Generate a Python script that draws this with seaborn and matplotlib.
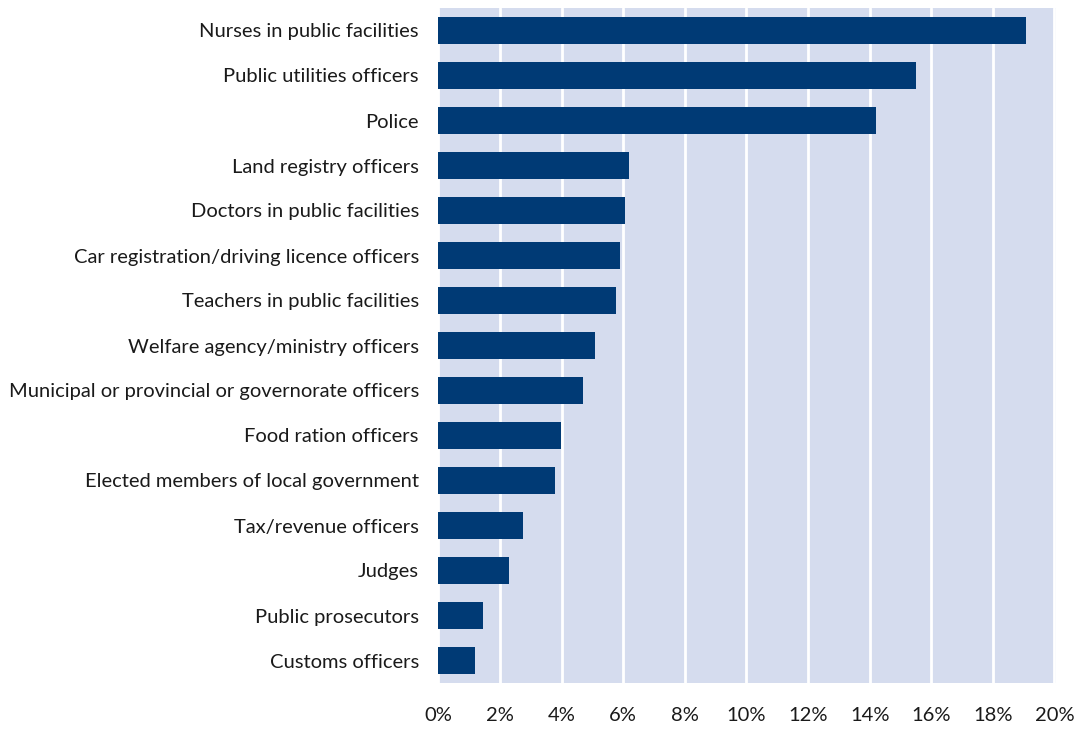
import matplotlib
matplotlib.use("Agg")
import matplotlib.pyplot as plt
import seaborn as sns
import pandas as pd
from matplotlib.ticker import FuncFormatter

categories = [
    "Nurses in public facilities",
    "Public utilities officers",
    "Police",
    "Land registry officers",
    "Doctors in public facilities",
    "Car registration/driving licence officers",
    "Teachers in public facilities",
    "Welfare agency/ministry officers",
    "Municipal or provincial or governorate officers",
    "Food ration officers",
    "Elected members of local government",
    "Tax/revenue officers",
    "Judges",
    "Public prosecutors",
    "Customs officers",
]
values = [19.06, 15.5, 14.2, 6.19, 6.06, 5.89, 5.76, 5.08, 4.69, 3.98, 3.78, 2.75, 2.29, 1.45, 1.19]
x_ticks = [0, 2, 4, 6, 8, 10, 12, 14, 16, 18, 20]

df = pd.DataFrame({"category": categories, "value": values})

sns.set_theme(style="white")
plt.rcParams["font.family"] = ["Lato", "DejaVu Sans"]

fig = plt.figure(figsize=(10.79, 7.29), dpi=100)
ax = fig.add_axes([438.3 / 1079, 1 - 683 / 729, (1056 - 438.3) / 1079, (683 - 8) / 729])
ax.set_facecolor("#D5DCEE")

sns.barplot(data=df, x="value", y="category", color="#003A75", width=0.58,
            saturation=1, linewidth=0, edgecolor="none", ax=ax, zorder=3)

ax.set_xlim(0, 20.05)
ax.set_ylim(len(categories) - 0.5, -0.5)
ax.set_xticks(x_ticks)
ax.xaxis.set_major_formatter(FuncFormatter(lambda v, p: f"{v:.0f}%"))
ax.grid(axis="x", color="white", linewidth=2, zorder=1)
ax.grid(axis="y", visible=False)
ax.set_axisbelow(True)
for s in ax.spines.values():
    s.set_visible(False)
ax.set_xlabel("")
ax.set_ylabel("")
ax.tick_params(axis="both", length=0, labelsize=14.5, colors="#1a1a1a")
ax.tick_params(axis="y", pad=14)
ax.tick_params(axis="x", pad=17)

fig.savefig("out.png", dpi=100)
